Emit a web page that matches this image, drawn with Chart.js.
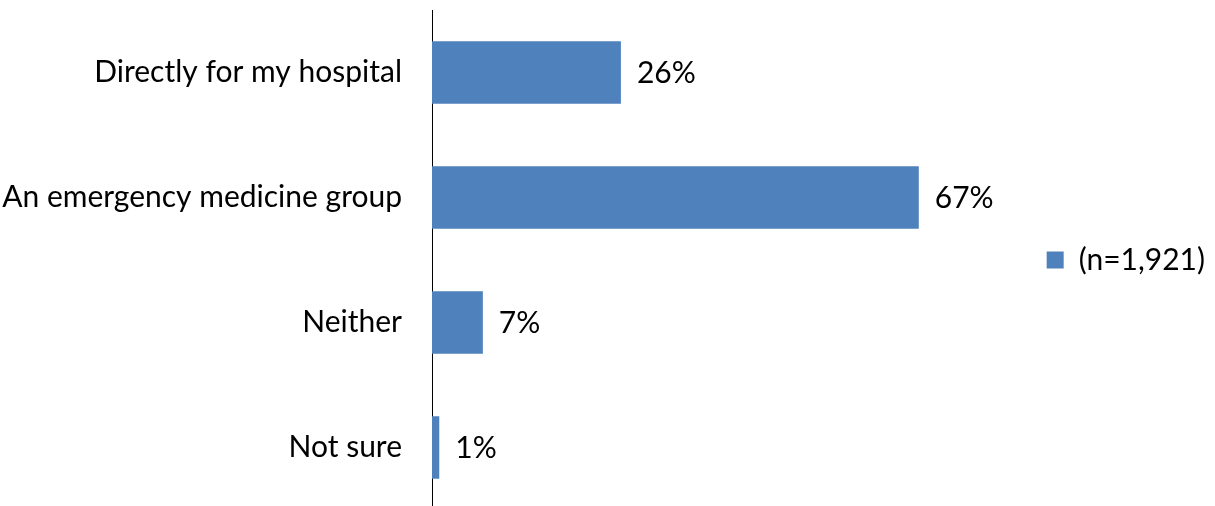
<!DOCTYPE html>
<html>
<head>
<meta charset="utf-8">
<script src="https://cdn.jsdelivr.net/npm/chart.js@4/dist/chart.umd.min.js"></script>
<style>
    html, body { margin: 0; padding: 0; background: #fff; overflow: hidden; }
    #wrap { width: 1215px; height: 511px; position: relative; }
</style>
</head>
<body>
<div id="wrap"><canvas id="employerChart"></canvas></div>
<script>
const categories = ['Directly for my hospital', 'An emergency medicine group', 'Neither', 'Not sure'];
const percentages = [26, 67, 7, 1];
const seriesLabel = '(n=1,921)';

const FONT = 'Lato, "Liberation Sans", sans-serif';
const FONT_SIZE = 30;

// draws the value text just past the end of each bar
const valueLabels = {
    id: 'valueLabels',
    afterDatasetsDraw(chart) {
        const ctx = chart.ctx;
        const meta = chart.getDatasetMeta(0);
        ctx.save();
        ctx.font = FONT_SIZE + 'px ' + FONT;
        ctx.fillStyle = '#000';
        ctx.textAlign = 'left';
        ctx.textBaseline = 'middle';
        meta.data.forEach((bar, i) => {
            ctx.fillText(percentages[i] + '%', bar.x + 16, bar.y + 1);
        });
        ctx.restore();
    }
};

document.addEventListener('DOMContentLoaded', function() {
    new Chart(document.getElementById('employerChart').getContext('2d'), {
        type: 'bar',
        data: {
            labels: categories,
            datasets: [{
                label: seriesLabel,
                data: percentages,
                backgroundColor: '#4F81BD',
                borderWidth: 0,
                barPercentage: 0.5,
                categoryPercentage: 1
            }]
        },
        options: {
            indexAxis: 'y',
            responsive: true,
            maintainAspectRatio: false,
            animation: false,
            layout: { padding: { top: 10, bottom: 1, right: 0 } },
            scales: {
                x: {
                    display: false,
                    min: 0,
                    max: 83.5
                },
                y: {
                    grid: { display: false, drawTicks: false },
                    border: { display: true, color: '#000', width: 1 },
                    ticks: {
                        color: '#000',
                        padding: 30,
                        font: { family: FONT, size: FONT_SIZE }
                    },
                    afterFit(scale) {
                        scale.width = 432;
                        scale.paddingTop = 0;
                        scale.paddingBottom = 0;
                    }
                }
            },
            plugins: {
                legend: {
                    position: 'right',
                    labels: {
                        boxWidth: 17,
                        boxHeight: 17,
                        color: '#000',
                        padding: 8,
                        font: { family: FONT, size: FONT_SIZE }
                    }
                },
                tooltip: { enabled: false }
            }
        },
        plugins: [valueLabels]
    });
});
</script>
</body>
</html>
